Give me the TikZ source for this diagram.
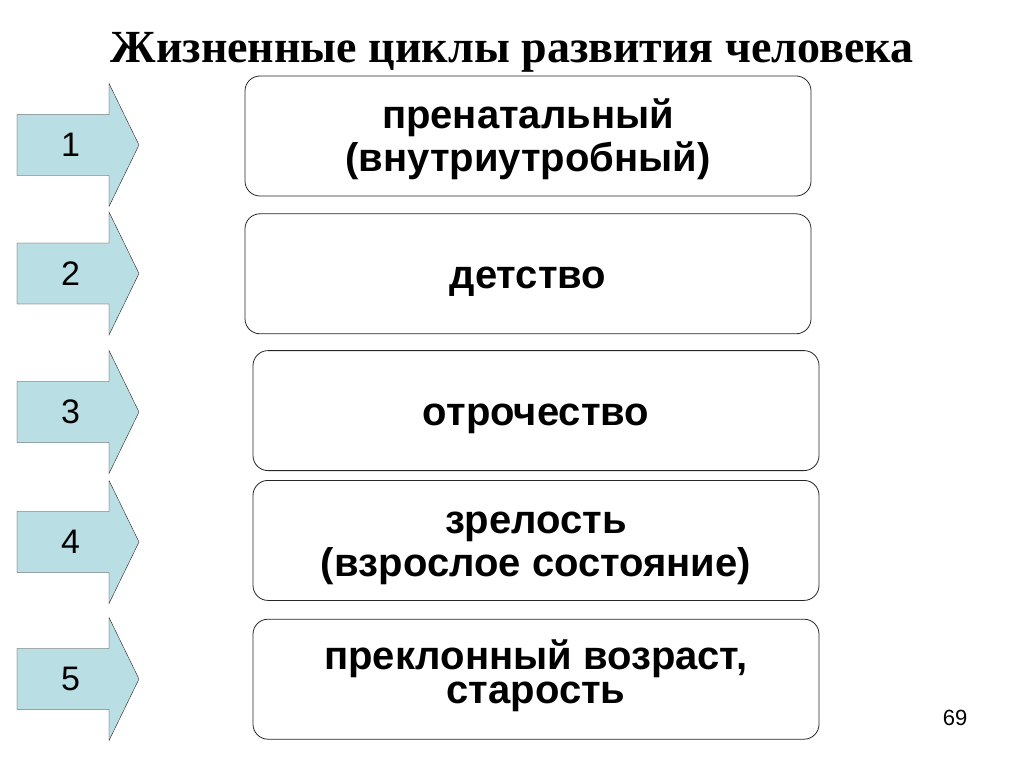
\documentclass[tikz,border=0pt]{standalone}
\usepackage{fontspec}
\setmainfont{Liberation Sans}
\newfontfamily\titlefont{Liberation Serif}
\usetikzlibrary{positioning}
\definecolor{stagefill}{RGB}{185,222,227}

\begin{document}
\begin{tikzpicture}[x=1pt,y=-1pt,
	stage/.style={rectangle,draw=black!85,thick,rounded corners=15pt,
		minimum width=566pt,minimum height=120pt,inner sep=0pt,align=center,
		font=\fontsize{40}{43}\selectfont\bfseries,
		text height=38.5pt,text depth=8.5pt},
	two lines/.style={text height=80pt},
	arrow look/.style={draw=black!85,fill=stagefill},
	arrow outline/.style={insert path={++(-46,-30.5) -- ++(92,0) -- ++(0,-31)
		-- ++(30,61.5) -- ++(-30,61.5) -- ++(0,-31) -- ++(-92,0) -- cycle}},
	num/.style={inner sep=0pt,font=\fontsize{34}{40}\selectfont},
	title/.style={font=\titlefont\fontsize{46}{52}\selectfont\bfseries,anchor=base}
	]
\useasboundingbox (0,0) rectangle (1024,767);

% heading
\node [title] (head) at (512,63) {Жизненные циклы развития человека};

% life stages
\node [stage, two lines] (s1) at (528,136) {пренатальный\\(внутриутробный)};
\node [stage] (s2) [below = 17pt of s1] {детство};
\node [stage] (s3) [below = 16pt of s2, xshift=8pt] {отрочество};
\node [stage, two lines] (s4) [below = 9pt of s3] {зрелость\\(взрослое состояние)};
\node [stage, text height=58pt] (s5) [below = 18pt of s4]
	{преклонный возраст,\\[-9pt]старость};

% numbered arrows
\coordinate (c1) at (63,145);
\coordinate (c2) at (63,273.5);
\coordinate (c3) at (63,412);
\coordinate (c4) at (63,542);
\coordinate (c5) at (63,679);
\draw [arrow look] (c1) [arrow outline];
\draw [arrow look] (c2) [arrow outline];
\draw [arrow look] (c3) [arrow outline];
\draw [arrow look] (c4) [arrow outline];
\draw [arrow look] (c5) [arrow outline];
\node [num] (n1) [right = -2pt of c1] {1};
\node [num] (n2) [right = -2pt of c2] {2};
\node [num] (n3) [right = -2pt of c3] {3};
\node [num] (n4) [right = -2pt of c4] {4};
\node [num] (n5) [right = -2pt of c5] {5};

% slide number
\node [font=\fontsize{22}{26}\selectfont] (page) at (955,718) {69};
\end{tikzpicture}
\end{document}
